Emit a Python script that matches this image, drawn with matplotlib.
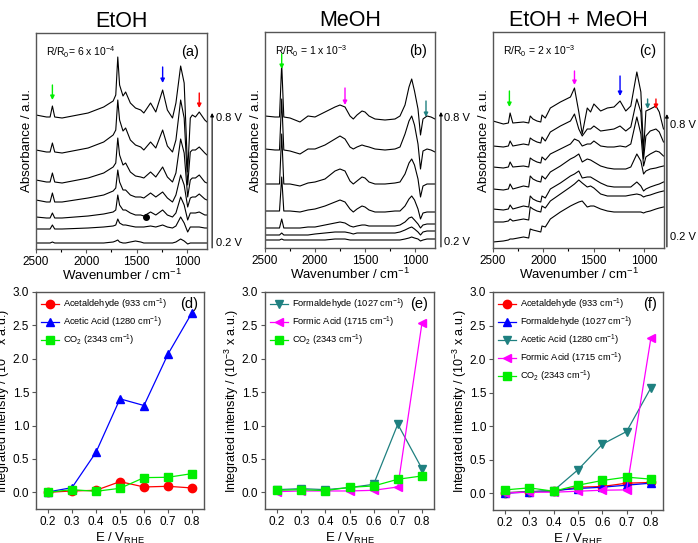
import numpy as np
import matplotlib
matplotlib.use('Agg')
import matplotlib.pyplot as plt

plt.rcParams['font.family'] = ['Liberation Sans', 'DejaVu Sans']
plt.rcParams['mathtext.default'] = 'regular'

# ---------------- spectra (offset absorbance, a.u.), top spectrum = 0.8 V ----------------
wn_a = [2500, 2396, 2360, 2337, 2314, 2241, 1982, 1827, 1733, 1707, 1687, 1669, 1635, 1609, 1562, 1511, 1459,
        1428, 1361, 1309, 1241, 1194, 1143, 1109, 1062, 1027, 992, 966, 946, 915, 877, 822, 800]
etoh_08 = [134, 132, 132, 143, 132, 131, 136, 142, 148, 154, 192, 164, 153, 157, 146, 141, 139, 136, 146, 137, 159,
           139, 131, 146, 183, 166, 77, 131, 134, 132, 137, 129, 127]
etoh_07 = [99, 97, 97, 106, 97, 96, 101, 107, 114, 119, 149, 129, 118, 121, 109, 104, 102, 99, 107, 101, 119, 103,
           97, 109, 149, 131, 64, 97, 99, 99, 102, 96, 94]
etoh_06 = [69, 67, 67, 76, 67, 66, 71, 76, 82, 86, 111, 94, 84, 86, 77, 73, 72, 71, 77, 72, 82, 72, 67, 76, 110, 96,
           52, 69, 71, 71, 74, 67, 66]
etoh_05 = [49, 47, 47, 56, 47, 47, 51, 54, 58, 61, 79, 67, 59, 59, 54, 52, 52, 51, 56, 52, 57, 51, 47, 54, 74, 64,
           42, 51, 52, 52, 55, 50, 49]
etoh_04 = [32, 31, 31, 36, 31, 31, 33, 35, 37, 39, 54, 44, 39, 39, 36, 34, 34, 33, 37, 34, 39, 34, 32, 36, 52, 44,
           29, 36, 36, 36, 37, 34, 34]
etoh_03 = [20, 20, 20, 24, 20, 20, 21, 22, 23, 24, 30, 26, 24, 24, 23, 22, 22, 22, 23, 22, 24, 22, 21, 23, 32, 26,
           17, 22, 22, 22, 22, 21, 21]
etoh_02 = [6, 6, 6, 7, 6, 6, 6, 6, 7, 8, 9, 7, 6, 6, 7, 8, 7, 6, 6, 6, 6, 6, 6, 7, 10, 8, 5, 6, 6, 6, 6, 6, 6]

wn_b = [2500, 2400, 2355, 2333, 2312, 2250, 2150, 2070, 2000, 1900, 1800, 1750, 1700, 1650, 1617, 1580, 1530,
        1500, 1460, 1400, 1300, 1200, 1150, 1100, 1060, 1033, 1005, 970, 945, 920, 880, 840, 800]
meoh_08 = [132, 131, 131, 184, 131, 130, 126, 132, 131, 136, 141, 143, 141, 132, 129, 133, 137, 136, 132, 129, 128,
           129, 132, 143, 161, 169, 157, 139, 113, 129, 132, 131, 129]
meoh_07 = [99, 98, 98, 149, 98, 97, 94, 99, 99, 103, 109, 112, 109, 101, 99, 101, 103, 102, 101, 99, 98, 99, 101,
           114, 127, 132, 123, 104, 79, 97, 99, 98, 96]
meoh_06 = [64, 64, 64, 114, 64, 64, 62, 65, 66, 69, 77, 79, 77, 67, 64, 67, 71, 70, 66, 64, 64, 65, 66, 74, 85, 89,
           83, 69, 51, 62, 64, 64, 64]
meoh_05 = [37, 37, 37, 71, 37, 37, 36, 38, 39, 42, 46, 48, 46, 39, 36, 39, 42, 41, 38, 36, 36, 37, 37, 42, 49, 52,
           48, 39, 29, 35, 36, 36, 36]
meoh_04 = [20, 20, 20, 29, 20, 20, 20, 21, 21, 23, 25, 26, 25, 22, 21, 22, 23, 23, 22, 22, 22, 22, 23, 26, 30, 31,
           28, 24, 20, 23, 24, 24, 24]
meoh_03 = [13, 13, 13, 15, 13, 13, 13, 13, 14, 15, 16, 16, 16, 15, 14, 15, 15, 15, 15, 15, 15, 15, 16, 18, 20, 21,
           19, 16, 13, 16, 17, 17, 17]
meoh_02 = [8, 8, 8, 9, 8, 8, 8, 8, 8, 8, 9, 9, 9, 8, 8, 8, 8, 8, 8, 8, 8, 8, 8, 9, 10, 11, 10, 9, 7, 8, 9, 9, 9]

wn_c = [2500, 2397, 2347, 2330, 2303, 2197, 2145, 2130, 2103, 2063, 2025, 2013, 1980, 1930, 1830, 1730, 1690,
        1647, 1613, 1563, 1530, 1497, 1430, 1363, 1297, 1237, 1180, 1130, 1070, 1030, 1003, 980, 937, 880, 847, 805]
mix_08 = [127, 124, 125, 135, 125, 126, 125, 132, 129, 127, 126, 133, 130, 140, 146, 151, 160, 136, 114, 140, 136,
          144, 137, 140, 141, 147, 137, 142, 176, 156, 97, 137, 139, 142, 136, 119]
mix_07 = [102, 101, 102, 107, 102, 104, 103, 110, 108, 106, 105, 111, 107, 116, 122, 127, 134, 119, 112, 119, 119,
          122, 117, 118, 119, 122, 117, 121, 149, 136, 89, 112, 117, 119, 116, 106]
mix_06 = [81, 80, 81, 86, 81, 82, 81, 90, 88, 86, 85, 91, 88, 94, 99, 104, 109, 107, 102, 104, 104, 107, 102, 101,
          101, 102, 101, 104, 131, 114, 82, 91, 94, 97, 96, 92]
mix_05 = [59, 58, 59, 64, 59, 62, 61, 72, 69, 67, 66, 72, 69, 76, 82, 89, 91, 94, 86, 89, 88, 86, 82, 80, 79, 79,
          79, 81, 94, 87, 74, 77, 79, 80, 81, 82]
mix_04 = [39, 38, 39, 43, 39, 42, 41, 52, 49, 47, 46, 52, 50, 59, 65, 72, 74, 77, 70, 71, 71, 69, 65, 62, 61, 61,
          61, 61, 66, 62, 57, 59, 61, 63, 64, 66]
mix_03 = [26, 26, 27, 29, 27, 29, 28, 41, 39, 37, 36, 42, 40, 47, 54, 61, 64, 68, 65, 61, 62, 60, 54, 52, 52, 52,
          52, 53, 54, 53, 51, 52, 53, 55, 56, 57]
mix_02 = [6, 7, 8, 9, 9, 11, 10, 19, 18, 17, 16, 22, 21, 29, 36, 42, 44, 46, 47, 41, 42, 42, 39, 37, 36, 36, 36,
          36, 36, 36, 35, 36, 37, 39, 40, 41]

# ---------------- integrated intensities (10^-3 a.u.) ----------------
potential = [0.2, 0.3, 0.4, 0.5, 0.6, 0.7, 0.8]
d_acetaldehyde = [0.0, 0.02, 0.03, 0.16, 0.08, 0.09, 0.065]
d_acetic = [0.005, 0.07, 0.6, 1.4, 1.3, 2.07, 2.69]
d_co2 = [0.0, 0.04, 0.015, 0.06, 0.22, 0.225, 0.28]

e_formaldehyde = [0.04, 0.055, 0.04, 0.07, 0.12, 1.02, 0.355]
e_formic = [0.01, 0.02, 0.02, 0.02, 0.03, 0.08, 2.53]
e_co2 = [0.03, 0.04, 0.025, 0.075, 0.095, 0.195, 0.245]

f_acetaldehyde = [0.005, 0.025, 0.03, 0.09, 0.1, 0.15, 0.16]
f_formaldehyde = [0.0, 0.02, 0.04, 0.07, 0.09, 0.12, 0.15]
f_acetic = [0.01, 0.02, 0.04, 0.35, 0.73, 0.92, 1.57]
f_formic = [0.005, 0.015, 0.015, 0.03, 0.045, 0.05, 2.31]
f_co2 = [0.05, 0.08, 0.03, 0.12, 0.19, 0.24, 0.21]

RED, BLUE, GREEN, TEAL, MAG = '#ff0000', '#0000ff', '#00ee00', '#1f8080', '#ff00ff'
FRAME = '#555555'

fig = plt.figure(figsize=(6.98, 5.43), dpi=100)
W, H = 698, 543


def px_axes(l, t, r, b):
    return fig.add_axes([l / W, 1 - b / H, (r - l) / W, (b - t) / H])


def frame(ax):
    for s in ax.spines.values():
        s.set_color(FRAME)
        s.set_linewidth(1.0)
    ax.tick_params(colors='k', which='both', direction='out', length=3, width=0.8, labelsize=8.5, pad=2)
    ax.tick_params(which='minor', length=2)
    ax.tick_params(axis='both', color=FRAME)


def spectra_panel(ax, wn, traces, title, rr, letter, marks, vpos):
    for tr in traces:
        ax.plot(wn, tr, color='k', lw=0.8)
    ax.set_xlim(2500, 800)
    ax.set_ylim(0, 216)
    ax.set_yticks([])
    ax.set_xticks([2500, 2000, 1500, 1000])
    ax.set_xticks([2250, 1750, 1250], minor=True)
    frame(ax)
    ax.set_title(title, fontsize=15.5, pad=4)
    ax.set_xlabel('Wavenumber / cm$^{-1}$', fontsize=9.5, labelpad=0)
    ax.set_ylabel('Absorbance / a.u.', fontsize=9.5)
    ax.yaxis.set_label_coords(-0.02, 0.5)
    ax.text(0.06, 0.91, rr, transform=ax.transAxes, fontsize=7.5, va='center')
    ax.text(0.955, 0.91, letter, transform=ax.transAxes, fontsize=10.5, va='center', ha='right')
    for x, y0, y1, c in marks:
        ax.annotate('', xy=(x, y1), xytext=(x, y0),
                    arrowprops=dict(arrowstyle='-|>', color=c, lw=1.0, mutation_scale=6, shrinkA=0, shrinkB=0))
    xa, ytop, ylab_top, ylab_bot = vpos
    ax.annotate('', xy=(xa, ytop), xytext=(xa, 0.005), xycoords='axes fraction',
                arrowprops=dict(arrowstyle='-|>', color='k', lw=0.8, mutation_scale=5, shrinkA=0, shrinkB=0),
                annotation_clip=False)
    ax.text(xa + 0.02, ylab_top, '0.8 V', transform=ax.transAxes, fontsize=8, va='center')
    ax.text(xa + 0.02, ylab_bot, '0.2 V', transform=ax.transAxes, fontsize=8, va='center')


ax_a = px_axes(36, 33, 207, 249)
spectra_panel(ax_a, wn_a, [etoh_08, etoh_07, etoh_06, etoh_05, etoh_04, etoh_03, etoh_02], 'EtOH',
              'R/R$_0$= 6 x 10$^{-4}$', '(a)',
              [(2337, 164, 149, GREEN), (1241, 182, 166, BLUE), (877, 156, 141, RED)],
              (1.03, 0.63, 0.606, 0.03))
ax_a.plot([1410], [32], 'o', color='k', ms=4)

ax_b = px_axes(265, 32, 435, 248)
spectra_panel(ax_b, wn_b, [meoh_08, meoh_07, meoh_06, meoh_05, meoh_04, meoh_03, meoh_02], 'MeOH',
              'R/R$_0$ = 1 x 10$^{-3}$', '(b)',
              [(2333, 194, 179, GREEN), (1700, 160, 143, MAG), (890, 147, 131, TEAL)],
              (1.035, 0.63, 0.6, 0.03))

ax_c = px_axes(493, 32, 664, 248)
spectra_panel(ax_c, wn_c, [mix_08, mix_07, mix_06, mix_05, mix_04, mix_03, mix_02], 'EtOH + MeOH',
              'R/R$_0$ = 2 x 10$^{-3}$', '(c)',
              [(2337, 157, 141, GREEN), (1690, 177, 163, MAG), (1237, 172, 152, BLUE),
               (963, 149, 139, TEAL), (880, 149, 139, RED)],
              (1.017, 0.62, 0.57, 0.05))


def intensity_panel(ax, series, letter):
    for vals, mk, c, lab in series:
        ax.plot(potential, vals, marker=mk, color=c, ms=6, lw=0.9, label=lab)
    ax.set_xlim(0.15, 0.85)
    ax.set_ylim(-0.25, 3.0)
    ax.set_xticks(potential)
    ax.set_yticks([0.0, 0.5, 1.0, 1.5, 2.0, 2.5, 3.0])
    ax.set_yticklabels(['0.0', '0.5', '1.0', '1.5', '2.0', '2.5', '3.0'])
    frame(ax)
    ax.set_xlabel('E / V$_{RHE}$', fontsize=9.5, labelpad=2)
    ax.set_ylabel('Integrated intensity / (10$^{-3}$ x a.u.)', fontsize=9)
    ax.yaxis.set_label_coords(-0.143, 0.5)
    ax.legend(loc='upper left', frameon=False, fontsize=6.7, handlelength=2.0, handletextpad=0.35,
              labelspacing=0.3, borderaxespad=0.2, borderpad=0.3)
    ax.text(0.965, 0.945, letter, transform=ax.transAxes, fontsize=10.5, va='center', ha='right')


ax_d = px_axes(36, 292, 204, 509)
intensity_panel(ax_d, [(d_acetaldehyde, 'o', RED, 'Acetaldehyde (933 cm$^{-1}$)'),
                       (d_acetic, '^', BLUE, 'Acetic Acid (1280 cm$^{-1}$)'),
                       (d_co2, 's', GREEN, 'CO$_2$ (2343 cm$^{-1}$)')], '(d)')

ax_e = px_axes(265, 292, 434, 509)
intensity_panel(ax_e, [(e_formaldehyde, 'v', TEAL, 'Formaldehyde (1027 cm$^{-1}$)'),
                       (e_formic, '<', MAG, 'Formic Acid (1715 cm$^{-1}$)'),
                       (e_co2, 's', GREEN, 'CO$_2$ (2343 cm$^{-1}$)')], '(e)')

ax_f = px_axes(493, 292, 663, 510)
intensity_panel(ax_f, [(f_acetaldehyde, 'o', RED, 'Acetaldehyde (933 cm$^{-1}$)'),
                       (f_formaldehyde, '^', BLUE, 'Formaldehyde (1027 cm$^{-1}$)'),
                       (f_acetic, 'v', TEAL, 'Acetic Acid (1280 cm$^{-1}$)'),
                       (f_formic, '<', MAG, 'Formic Acid (1715 cm$^{-1}$)'),
                       (f_co2, 's', GREEN, 'CO$_2$ (2343 cm$^{-1}$)')], '(f)')

fig.savefig('out.png', dpi=100)
